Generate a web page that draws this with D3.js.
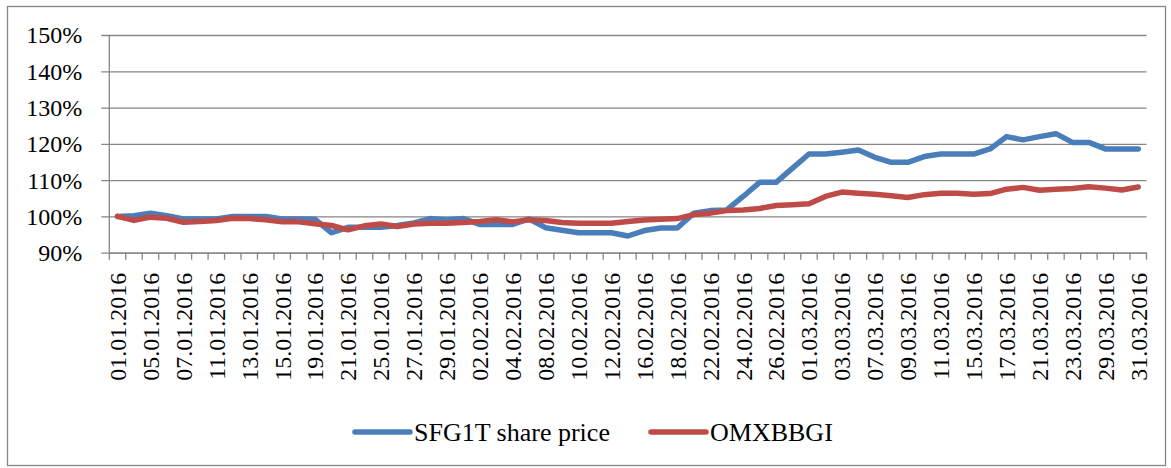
<!DOCTYPE html>
<html>
<head>
<meta charset="utf-8">
<script src="https://cdn.jsdelivr.net/npm/d3@7"></script>
<style>
  body { margin: 0; background: #fff; }
</style>
</head>
<body>
<div id="chart"></div>
<script>
// trading days, Q1 2016
const dates = [
  "01.01.2016", "04.01.2016", "05.01.2016", "06.01.2016", "07.01.2016", "08.01.2016", "11.01.2016",
  "12.01.2016", "13.01.2016", "14.01.2016", "15.01.2016", "18.01.2016", "19.01.2016", "20.01.2016",
  "21.01.2016", "22.01.2016", "25.01.2016", "26.01.2016", "27.01.2016", "28.01.2016", "29.01.2016",
  "01.02.2016", "02.02.2016", "03.02.2016", "04.02.2016", "05.02.2016", "08.02.2016", "09.02.2016",
  "10.02.2016", "11.02.2016", "12.02.2016", "15.02.2016", "16.02.2016", "17.02.2016", "18.02.2016",
  "19.02.2016", "22.02.2016", "23.02.2016", "24.02.2016", "25.02.2016", "26.02.2016", "29.02.2016",
  "01.03.2016", "02.03.2016", "03.03.2016", "04.03.2016", "07.03.2016", "08.03.2016", "09.03.2016",
  "10.03.2016", "11.03.2016", "14.03.2016", "15.03.2016", "16.03.2016", "17.03.2016", "18.03.2016",
  "21.03.2016", "22.03.2016", "23.03.2016", "24.03.2016", "29.03.2016", "30.03.2016", "31.03.2016"
]

// % of 01.01.2016 level
const sfg1t = [
  100, 100.2, 100.9, 100.2, 99.3, 99.3, 99.3, 100, 100, 100,
  99.3, 99.3, 99.2, 95.5, 97, 97, 97, 97.5, 98.2, 99.4,
  99, 99.4, 97.8, 97.8, 97.8, 99.3, 96.9, 96.2, 95.5, 95.5,
  95.5, 94.6, 96.1, 96.8, 96.8, 100.9, 101.6, 101.8, 105.5, 109.4,
  109.4, 113.3, 117.2, 117.2, 117.7, 118.3, 116.3, 114.9, 114.9, 116.5,
  117.2, 117.2, 117.2, 118.6, 122, 121.1, 122, 122.8, 120.4, 120.4,
  118.6, 118.6, 118.6
]

const omxbbgi = [
  100, 98.9, 99.8, 99.5, 98.4, 98.6, 98.9, 99.5, 99.4, 99.1,
  98.5, 98.5, 98, 97.5, 96.3, 97.4, 97.9, 97.2, 97.9, 98.1,
  98.1, 98.3, 98.6, 99.1, 98.5, 99.1, 98.9, 98.3, 98.1, 98.1,
  98.1, 98.6, 99, 99.2, 99.4, 100.5, 100.9, 101.6, 101.8, 102.2,
  103, 103.2, 103.5, 105.5, 106.7, 106.4, 106.1, 105.7, 105.2, 106,
  106.4, 106.4, 106.1, 106.3, 107.5, 108, 107.2, 107.5, 107.7, 108.2,
  107.8, 107.3, 108.1
]

const yTicks = [90, 100, 110, 120, 130, 140, 150]

const seriesNames = ["SFG1T share price", "OMXBBGI"]
const seriesColors = ["#4a7ebb", "#be4b48"]

const width = 1171
const height = 468
const margin = { top: 35, right: 24.5, bottom: 215.3, left: 109.3 }
const plotW = width - margin.left - margin.right
const plotH = height - margin.top - margin.bottom
const gridColor = "#868686"
const font = "Liberation Serif, Tinos, Times New Roman, Times, DejaVu Serif, serif"

const svg = d3.select("#chart").append("svg")
  .attr("width", width)
  .attr("height", height)
  .style("font-family", font)

// outer frame
svg.append("rect")
  .attr("x", 7.5).attr("y", 6.5)
  .attr("width", 1158).attr("height", 459)
  .attr("fill", "none")
  .attr("stroke", gridColor)
  .attr("stroke-width", 1.3)

const g = svg.append("g")
  .attr("transform", "translate(" + margin.left + "," + margin.top + ")")

const x = d3.scaleBand().domain(dates).range([0, plotW]).padding(0)
const y = d3.scaleLinear().domain([90, 150]).range([plotH, 0])

// horizontal gridlines + y labels
const yAxis = g.append("g")
  .call(d3.axisLeft(y).tickValues(yTicks).tickSize(-plotW).tickSizeOuter(0).tickPadding(27)
    .tickFormat(d => d + "%"))
  .attr("font-size", 24)
yAxis.select(".domain").remove()
yAxis.selectAll(".tick line")
  .attr("x1", -8)
  .attr("stroke", gridColor)
  .attr("stroke-width", 1.3)
yAxis.selectAll(".tick text")
  .style("font-family", font)
  .attr("fill", "#000")
  .attr("dy", "0.33em")

// left axis line
g.append("line")
  .attr("x1", 0).attr("x2", 0)
  .attr("y1", 0).attr("y2", plotH)
  .attr("stroke", gridColor).attr("stroke-width", 1.3)

// x axis: labels on every other day
const xAxis = g.append("g")
  .attr("transform", "translate(0," + plotH + ")")
  .call(d3.axisBottom(x).tickValues(dates.filter((d, i) => i % 2 == 0)).tickSize(0))
  .attr("font-size", 24)
xAxis.select(".domain")
  .attr("stroke", gridColor).attr("stroke-width", 1.3)
xAxis.selectAll(".tick text")
  .style("font-family", font)
  .attr("fill", "#000")
  .attr("text-anchor", "end")
  .attr("transform", "translate(0,20) rotate(-90)")
  .attr("x", 0).attr("y", 0)
  .attr("dy", "0.35em")

// tick marks sit between categories
const bounds = dates.map(d => x(d)).concat([plotW])
g.append("g")
  .selectAll("line")
  .data(bounds)
  .join("line")
  .attr("x1", d => d).attr("x2", d => d)
  .attr("y1", plotH).attr("y2", plotH + 7)
  .attr("stroke", gridColor)
  .attr("stroke-width", 1.3)

const line = d3.line()
  .x((d, i) => x(dates[i]) + x.bandwidth() / 2)
  .y(d => y(d))

const allSeries = [sfg1t, omxbbgi]
allSeries.forEach((s, k) => {
  g.append("path")
    .datum(s)
    .attr("fill", "none")
    .attr("stroke", seriesColors[k])
    .attr("stroke-width", 5.5)
    .attr("stroke-linejoin", "round")
    .attr("stroke-linecap", "round")
    .attr("d", line)
})

// legend
const legendX = [355, 651]
const legend = svg.append("g").attr("transform", "translate(0,432)")
seriesNames.forEach((name, k) => {
  legend.append("line")
    .attr("x1", legendX[k]).attr("x2", legendX[k] + 55)
    .attr("y1", 0).attr("y2", 0)
    .attr("stroke", seriesColors[k])
    .attr("stroke-width", 5.5)
    .attr("stroke-linecap", "round")
  legend.append("text")
    .attr("x", legendX[k] + 59)
    .attr("y", 0)
    .attr("dy", "0.35em")
    .attr("font-size", 26)
    .style("font-family", font)
    .attr("fill", "#000")
    .text(name)
})
</script>
</body>
</html>
